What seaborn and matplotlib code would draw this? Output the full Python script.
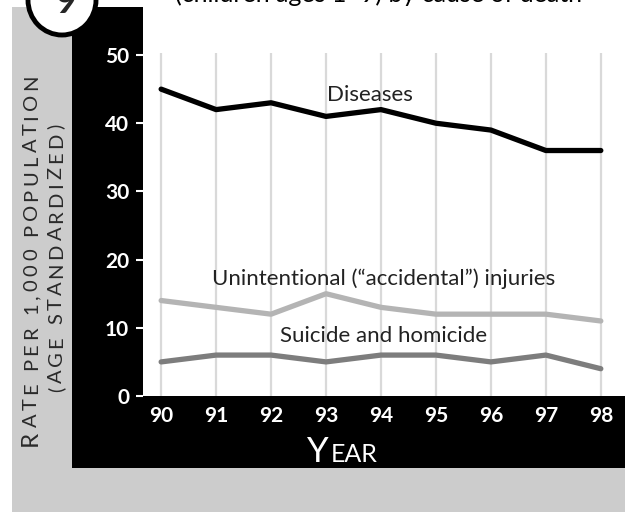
import pandas as pd
import matplotlib.pyplot as plt
import seaborn as sns
from matplotlib.patches import Rectangle, Ellipse
from matplotlib.font_manager import FontProperties

# data
years = [90, 91, 92, 93, 94, 95, 96, 97, 98]
diseases = [45, 42, 43, 41, 42, 40, 39, 36, 36]
injuries = [14, 13, 12, 15, 13, 12, 12, 12, 11]
suicide_homicide = [5, 6, 6, 5, 6, 6, 5, 6, 4]
y_ticks = [0, 10, 20, 30, 40, 50]

df = pd.DataFrame({
    "year": years * 3,
    "rate": diseases + injuries + suicide_homicide,
    "cause": ["Diseases"] * 9 + ["Injuries"] * 9 + ["Suicide"] * 9,
})

sns.set_style("white")
plt.rcParams['font.family'] = ['Lato', 'DejaVu Sans']

W, H = 625, 512
fig = plt.figure(figsize=(6.25, 5.12), dpi=100)
fig.patch.set_facecolor("white")

def fx(x):
    return x / W

def fy(y):
    return 1 - y / H

# background panels
fig.patches.append(Rectangle((fx(12), 0), fx(613), 505 / H, transform=fig.transFigure,
                             facecolor="#cccccc", edgecolor="none", zorder=0))
fig.patches.append(Rectangle((fx(72), fy(468)), fx(553), 461 / H, transform=fig.transFigure,
                             facecolor="black", edgecolor="none", zorder=0))
fig.patches.append(Rectangle((fx(143), fy(396)), fx(482), 396 / H, transform=fig.transFigure,
                             facecolor="white", edgecolor="none", zorder=0))

ax = fig.add_axes([fx(143), fy(396), fx(482), 343 / H])
ax.set_zorder(2)
ax.set_facecolor("white")

palette = {"Diseases": "black", "Injuries": "#b4b4b4", "Suicide": "#7d7d7d"}
sns.lineplot(data=df, x="year", y="rate", hue="cause", palette=palette,
             linewidth=3.8, legend=False, ax=ax, zorder=3)

ax.set_xlim(89.67, 98.44)
ax.set_ylim(0.58, 50.3)
ax.set_xticks(years)
ax.set_xticklabels([str(y) for y in years])
ax.set_yticks(y_ticks)
ax.grid(axis="x", color="#d9d9d9", linewidth=1.6)
ax.grid(axis="y", visible=False)
for s in ax.spines.values():
    s.set_visible(False)
ax.tick_params(axis="y", colors="white", length=5, width=1.5, pad=5,
               labelsize=15, left=True)
ax.tick_params(axis="x", colors="white", length=0, pad=7, labelsize=15)
for lab in ax.get_xticklabels() + ax.get_yticklabels():
    lab.set_fontweight("bold")
ax.set_xlabel("")
ax.set_ylabel("")

# series labels
ax.text(93.8, 44.2, "Diseases", fontsize=16, color="#222222", ha="center", va="center")
ax.text(94.05, 17.2, "Unintentional (\u201caccidental\u201d) injuries", fontsize=16,
        color="#222222", ha="center", va="center")
ax.text(94.05, 8.8, "Suicide and homicide", fontsize=16, color="#222222",
        ha="center", va="center")

# letter-spaced vertical caps for the y title (small-caps look)
renderer = fig.canvas.get_renderer()

def adv(s, size):
    prop = FontProperties(family="Lato", size=size)
    w_ref = renderer.get_text_width_height_descent("x", prop, ismath=False)[0]
    w_all = renderer.get_text_width_height_descent(s + "x", prop, ismath=False)[0]
    return w_all - w_ref

def tracked_vertical(x_px, y_bottom, y_top, parts, color):
    n_total = sum(len(t) for t, _ in parts)
    natural = sum(adv(t, sz) for t, sz in parts)
    gap = ((y_bottom - y_top) - natural) / (n_total - 1)
    y0 = y_bottom
    for txt, sz in parts:
        for i, c in enumerate(txt):
            y = y0 - adv(txt[:i], sz) - i * gap
            fig.text(fx(x_px), fy(y), c, rotation=90, fontsize=sz, color=color,
                     ha="left", va="baseline", rotation_mode="anchor")
        y0 = y0 - adv(txt, sz) - len(txt) * gap

tracked_vertical(37, 446, 75, [("R", 17.5), ("ATE PER 1,000 POPULATION", 14.5)], "#2a2a2a")
tracked_vertical(62, 392, 124, [("(AGE STANDARDIZED)", 14.5)], "#2a2a2a")

fig.text(fx(329), fy(462), "Y", fontsize=25, color="white", ha="right", va="baseline")
fig.text(fx(331), fy(462), "EAR", fontsize=18, color="white", ha="left", va="baseline")

# chart number badge and clipped title
fig.patches.append(Ellipse((fx(62), fy(0)), fx(68), 70 / H, transform=fig.transFigure,
                           facecolor="white", edgecolor="black", linewidth=3.5, zorder=5))
fig.text(fx(66), fy(13), "9", fontsize=26, fontweight="bold", ha="center",
         va="baseline", zorder=6)
fig.text(fx(175), fy(2), "(children ages 1\u20139) by cause of death", fontsize=18,
         color="black", ha="left", va="baseline")

fig.savefig("out.png", dpi=100)
